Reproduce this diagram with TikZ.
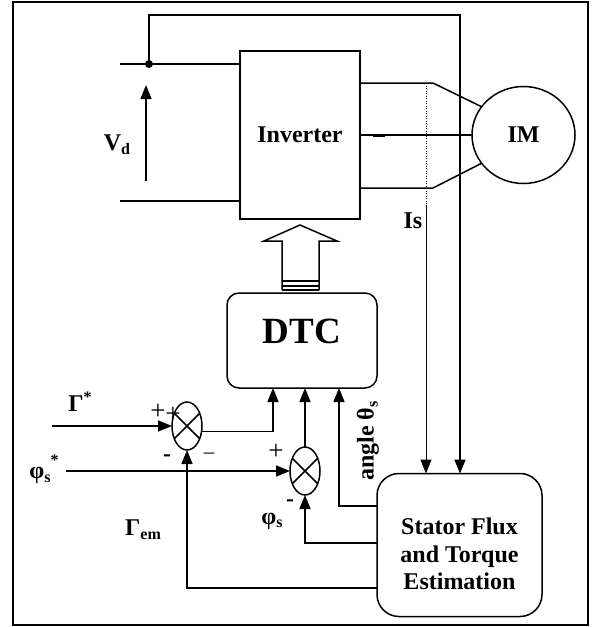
\documentclass[tikz,border=0pt]{standalone}
\usepackage{fontspec}
\setmainfont{Liberation Serif}
\usetikzlibrary{shapes.geometric,arrows.meta,calc}
\newcommand\lbsub[1]{\raisebox{-0.35ex}{\fontsize{16}{16}\selectfont #1}}
\newcommand\lbsup[1]{\raisebox{0.8ex}{\fontsize{16}{16}\selectfont #1}}
\begin{document}
\begin{tikzpicture}[x=1pt,y=-1pt,line width=1.5pt,
  every node/.style={font=\fontsize{24}{27.5}\selectfont\bfseries,inner sep=0pt,outer sep=0pt},
  arr/.style={-{Triangle[length=14pt,width=11pt]}},
  blk/.style={draw,line width=1.5pt},
  sumj/.style={draw,ellipse,minimum width=30pt,minimum height=48pt},
  sgn/.style={font=\fontsize{27}{27}\selectfont}]
\useasboundingbox (0,0) rectangle (593,627);
\draw (13,2) rectangle (588,625);
% blocks
\node[blk,minimum width=120pt,minimum height=168pt] (inv) at (300,135) {Inverter};
\node[blk,ellipse,minimum width=103pt,minimum height=97pt] (im) at (523.5,135) {IM};
\node[blk,rounded corners=12pt,minimum width=150pt,minimum height=95pt,
  label={[font=\fontsize{37}{37}\selectfont\bfseries,yshift=9.5pt]center:DTC}] (dtc) at (302,340.5) {};
\node[blk,rounded corners=22pt,minimum width=165pt,minimum height=143pt,
  label={[align=center,yshift=-9pt]center:Stator Flux\\and Torque\\Estimation}] (est) at (459.5,545) {};
\node[sumj] (s1) at (187,426) {};
\node[sumj] (s2) at (305,471) {};
\draw (s1.45) -- (s1.225) (s1.135) -- (s1.315);
\draw (s2.45) -- (s2.225) (s2.135) -- (s2.315);
% coordinates
\coordinate (dcT) at (120,64);
\coordinate (dcB) at (120,201);
\coordinate (jn) at (149,64);
\coordinate (fb2) at (460,15);
\coordinate (vb) at (146,181);
\coordinate (vt) at (146,85);
\coordinate (ma) at (433,83);
\coordinate (mb) at (433,188);
\coordinate (isT) at (426,83);
\coordinate (isM) at (426,205);
\coordinate (gref) at (52,426);
\coordinate (pref) at (66,471);
\coordinate (d1) at ($(dtc.south west)+(46,0)$);
\coordinate (d3) at ($(dtc.south west)+(112,0)$);
\coordinate (ay) at (0,506);
\coordinate (py) at (0,543);
\coordinate (gy) at (0,588);
% DC link
\draw (dcT) -- (dcT -| inv.west);
\draw (dcB) -- (dcB -| inv.west);
\fill (jn) circle (4pt);
\draw[arr] (vb) -- (vt);
\draw[arr] (jn) |- (fb2) -- (fb2 |- est.north);
% motor
\draw (inv.east |- ma) -- (ma) -- (im.146);
\draw (inv.east |- mb) -- (mb) -- (im.214);
\draw (inv.east) -- (im.west);
\draw[line width=3pt] ($(inv.east)+(13,0)$) -- ++(12,0);
\draw[line width=1pt,dash pattern=on 1pt off 1.5pt] (isT) -- (isM);
\draw[arr,line width=1pt] (isM) -- (isM |- est.north);
% hollow arrow
\draw[fill=white,line join=miter] (282,290) -- (282,241) -- (264,241) -- (300,225) -- (337,241) -- (319,241) -- (319,290);
\draw[line width=2pt] (282,281) -- (319,281) (282,285.5) -- (319,285.5) (282,290) -- (319,290);
% control loops
\draw[arr] (gref) -- (s1.west);
\draw[arr] (pref) -- (s2.west);
\draw[arr] (s1.-20) -| (d1);
\draw[arr] (s2.north) -- (s2.north |- dtc.south);
\draw[arr] (est.west |- ay) -| (d3);
\draw[arr] (est.west |- py) -| (s2.south);
\draw[arr] (est.west |- gy) -| (s1.south);
% signs
\node[sgn] at (158,412) {+};
\node[sgn] at (173,415) {+};
\node at (167,458) {-};
\node[sgn,font=\fontsize{21}{21}\selectfont] at (209,456) {–};
\node[sgn] at (276,452) {+};
\node at (290,503) {-};
% labels
\node at (117,145) {V\lbsub{d}};
\node at (80,402) {Γ\lbsup{*}};
\node at (44,469) {φ\lbsub{s}\raisebox{1.2ex}{\fontsize{16}{16}\selectfont *}};
\node at (143,530) {Γ\lbsub{em}};
\node at (272,521) {φ\lbsub{s}};
\node at (413,221) {Is};
\node[rotate=90] at (368,441) {angle θ\lbsub{s}};
\end{tikzpicture}
\end{document}
